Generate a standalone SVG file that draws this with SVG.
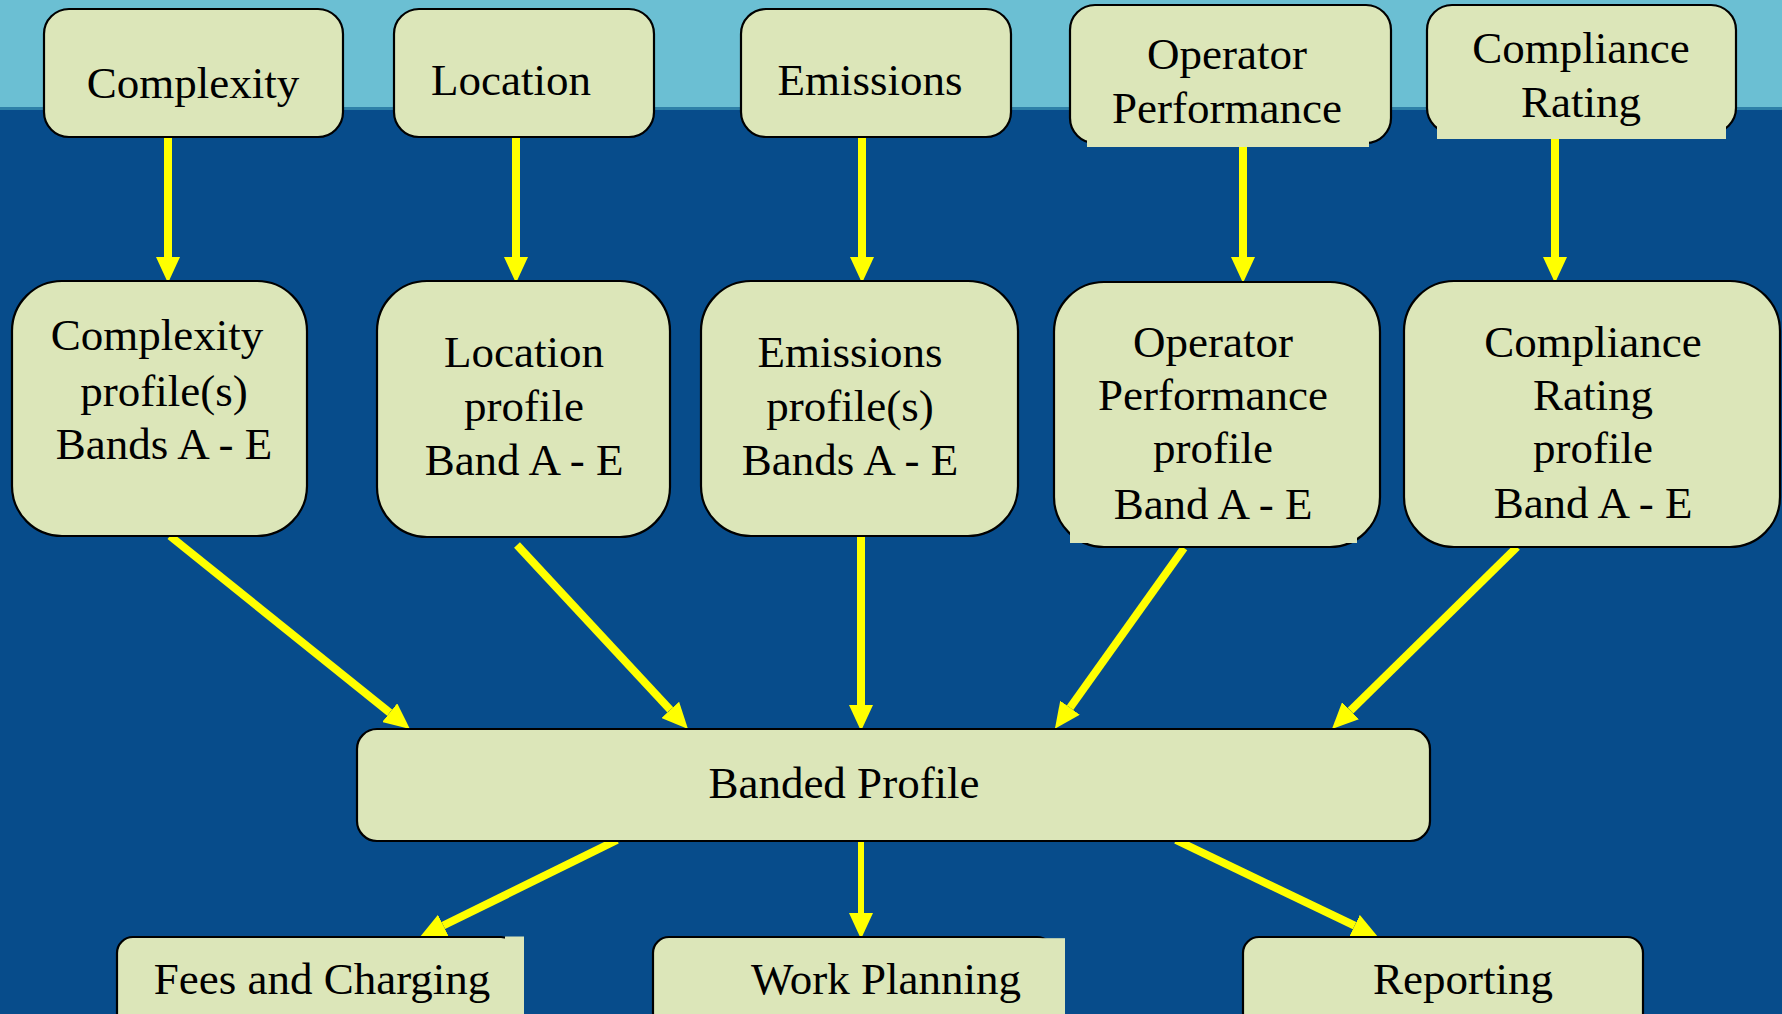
<svg xmlns="http://www.w3.org/2000/svg" width="1782" height="1014" viewBox="0 0 1782 1014">
<defs>
<style>
.box{fill:#DCE6B9;stroke:#000;stroke-width:2.2}
.ov{fill:#DCE6B9;stroke:none}
.t{font-family:"Liberation Serif","Times New Roman",serif;font-size:45px;fill:#000;text-anchor:middle}
.c{stroke:#FFFF00;stroke-width:8;fill:none;marker-end:url(#ah)}
.thin{stroke-width:6}
</style>
<marker id="ah" viewBox="0 0 26 24" refX="0" refY="12" markerWidth="26" markerHeight="24" markerUnits="userSpaceOnUse" orient="auto">
<path d="M0,0 L26,12 L0,24 Z" fill="#FFFF00"/>
</marker>
</defs>
<rect x="0" y="0" width="1782" height="1014" fill="#074C8B"/>
<rect x="0" y="0" width="1782" height="108" fill="#6BBFD3"/>
<rect x="0" y="107" width="1782" height="3" fill="#2E80A8"/>

<g id="connectors">
<line class="c" x1="168" y1="137" x2="168" y2="257"/>
<line class="c" x1="516" y1="137" x2="516" y2="257"/>
<line class="c" x1="862" y1="137" x2="862" y2="257"/>
<line class="c" x1="1243" y1="137" x2="1243" y2="257"/>
<line class="c" x1="1555" y1="137" x2="1555" y2="257"/>
<line class="c" x1="170" y1="536" x2="389.7" y2="712.7"/>
<line class="c" x1="517" y1="545" x2="670.3" y2="709.9"/>
<line class="c" x1="861" y1="528" x2="861" y2="705"/>
<line class="c" x1="1184" y1="548" x2="1070" y2="707.7"/>
<line class="c" x1="1517" y1="547" x2="1350.5" y2="710.7"/>
<line class="c" x1="617" y1="840" x2="443.3" y2="925.5"/>
<line class="c thin" x1="861" y1="841" x2="861" y2="913"/>
<line class="c" x1="1176" y1="840" x2="1354.6" y2="925.7"/>
</g>

<g id="n-complexity">
<rect class="box" x="44" y="9" width="299" height="128" rx="25"/>
<text class="t" x="193" y="98">Complexity</text>
</g>
<g id="n-location">
<rect class="box" x="394" y="9" width="260" height="128" rx="25"/>
<text class="t" x="511" y="95">Location</text>
</g>
<g id="n-emissions">
<rect class="box" x="741" y="9" width="270" height="128" rx="25"/>
<text class="t" x="870" y="95">Emissions</text>
</g>
<g id="n-operator">
<rect class="box" x="1070" y="5" width="321" height="138" rx="25"/>
<rect class="ov" x="1087" y="100" width="282" height="47"/>
<text class="t" x="1227" y="69">Operator</text>
<text class="t" x="1227" y="123">Performance</text>
</g>
<g id="n-compliance">
<rect class="box" x="1427" y="5" width="309" height="128" rx="25"/>
<rect class="ov" x="1437" y="100" width="289" height="39"/>
<text class="t" x="1581" y="63">Compliance</text>
<text class="t" x="1581" y="117">Rating</text>
</g>

<g id="n-complexity-profile">
<rect class="box" x="12" y="281" width="295" height="255" rx="50"/>
<text class="t" x="157" y="350">Complexity</text>
<text class="t" x="164" y="406">profile(s)</text>
<text class="t" x="164" y="459">Bands A - E</text>
</g>
<g id="n-location-profile">
<rect class="box" x="377" y="281" width="293" height="256" rx="50"/>
<text class="t" x="524" y="367">Location</text>
<text class="t" x="524" y="421">profile</text>
<text class="t" x="524" y="475">Band A - E</text>
</g>
<g id="n-emissions-profile">
<rect class="box" x="701" y="281" width="317" height="255" rx="50"/>
<text class="t" x="850" y="367">Emissions</text>
<text class="t" x="850" y="421">profile(s)</text>
<text class="t" x="850" y="475">Bands A - E</text>
</g>
<g id="n-operator-profile">
<rect class="box" x="1054" y="282" width="326" height="265" rx="50"/>
<rect class="ov" x="1070" y="470" width="287" height="73"/>
<text class="t" x="1213" y="357">Operator</text>
<text class="t" x="1213" y="410">Performance</text>
<text class="t" x="1213" y="463">profile</text>
<text class="t" x="1213" y="519">Band A - E</text>
</g>
<g id="n-compliance-profile">
<rect class="box" x="1404" y="281" width="376" height="266" rx="50"/>
<text class="t" x="1593" y="357">Compliance</text>
<text class="t" x="1593" y="410">Rating</text>
<text class="t" x="1593" y="463">profile</text>
<text class="t" x="1593" y="518">Band A - E</text>
</g>

<g id="n-banded">
<rect class="box" x="357" y="729" width="1073" height="112" rx="20"/>
<text class="t" x="844" y="798">Banded Profile</text>
</g>

<g id="n-fees">
<rect class="box" x="117" y="937" width="400" height="100" rx="16"/>
<rect class="ov" x="505" y="936.5" width="19" height="80"/>
<text class="t" x="322" y="994">Fees and Charging</text>
</g>
<g id="n-work">
<rect class="box" x="653" y="937" width="400" height="100" rx="16"/>
<rect class="ov" x="723" y="938.2" width="342" height="80"/>
<text class="t" x="886" y="994">Work Planning</text>
</g>
<g id="n-reporting">
<rect class="box" x="1243" y="937" width="400" height="100" rx="16"/>
<rect class="ov" x="1345" y="938.2" width="238" height="80"/>
<text class="t" x="1463" y="994">Reporting</text>
</g>
</svg>
